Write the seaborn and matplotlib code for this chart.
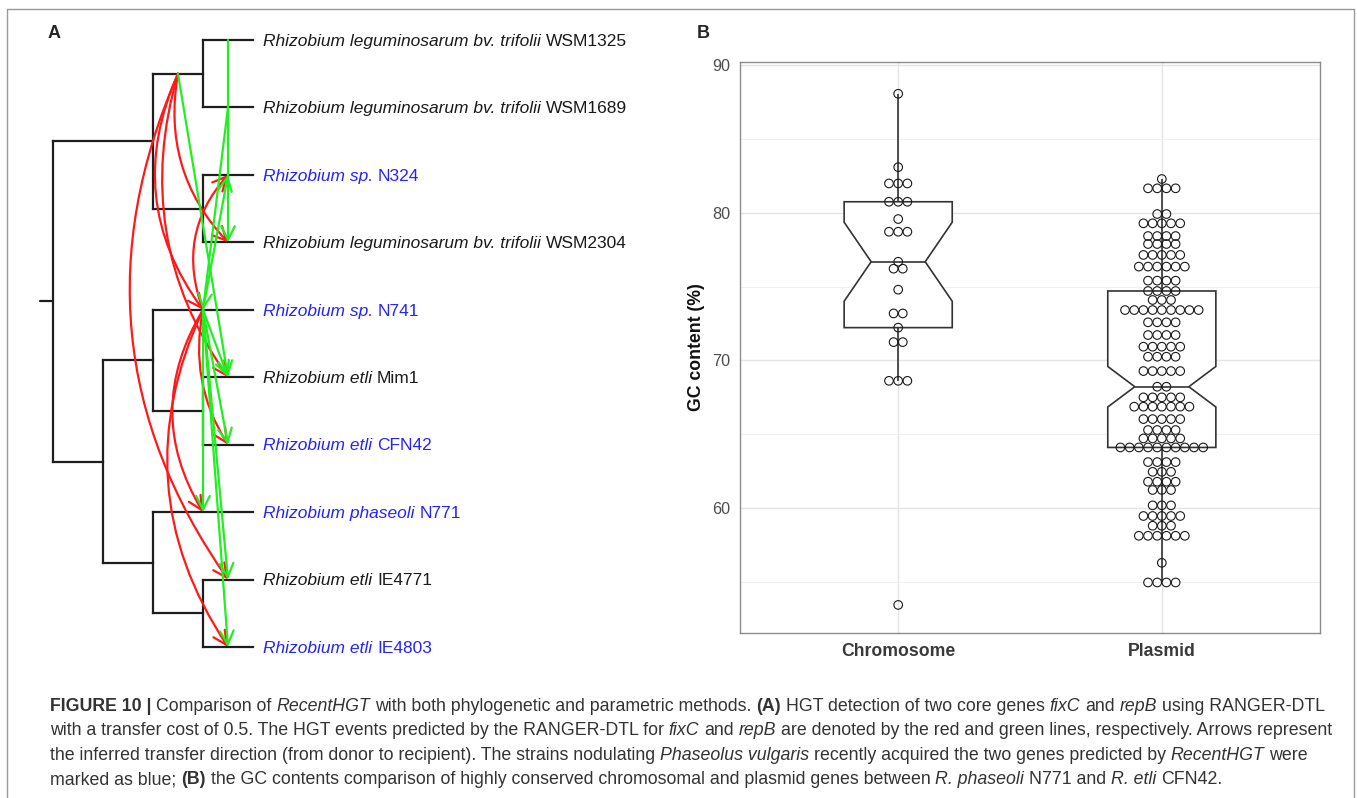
import numpy as np
import pandas as pd
import matplotlib
matplotlib.use("Agg")
import matplotlib.pyplot as plt
import seaborn as sns
from matplotlib.patches import FancyArrowPatch
from matplotlib.lines import Line2D

# ------------------------------------------------------------------ data
# Panel A : species tree (cladogram) and transfer events
tip_names = ["WSM1325", "WSM1689", "N324", "WSM2304", "N741",
             "Mim1", "CFN42", "N771", "IE4771", "IE4803"]
tip_taxon = ["Rhizobium leguminosarum bv. trifolii",
             "Rhizobium leguminosarum bv. trifolii",
             "Rhizobium sp.",
             "Rhizobium leguminosarum bv. trifolii",
             "Rhizobium sp.",
             "Rhizobium etli",
             "Rhizobium etli",
             "Rhizobium phaseoli",
             "Rhizobium etli",
             "Rhizobium etli"]
tip_is_blue = [False, False, True, False, True, False, True, True, False, True]
tree = ("root", [("CT", [("C1", ["WSM1325", "WSM1689"]),
                         ("C2", ["N324", "WSM2304"])]),
                 ("CB", [("C3", ["N741", ("C4", ["Mim1", "CFN42"])]),
                         ("C5", ["N771", ("C6", ["IE4771", "IE4803"])])])])

# fixC transfers (red) and repB transfers (green): donor -> recipient
fixC_donor = ["C1", "C1", "C1", "C1", "N741", "N741", "N741", "N741"]
fixC_recip = ["WSM2304", "N741", "Mim1", "IE4771", "N324", "CFN42", "N771", "IE4803"]
repB_donor = ["WSM1325", "WSM1689", "N741", "C1", "N741", "N741", "N741", "N741", "N741"]
repB_recip = ["WSM2304", "N741", "N324", "Mim1", "Mim1", "CFN42", "N771", "IE4771", "IE4803"]

# Panel B : GC content (%) of genes (dot rows: value, number of genes)
chrom_values = [88.05, 83.08, 81.98, 80.74, 79.57, 78.71, 76.68, 76.21, 74.79,
                73.18, 72.22, 71.24, 68.62, 53.45]
chrom_counts = [1, 1, 3, 3, 1, 3, 1, 2, 1, 2, 1, 2, 3, 1]
plasmid_values = [82.28, 81.65, 79.91, 79.28, 78.42, 77.88, 77.14, 76.35, 75.40,
                  74.70, 74.09, 73.41, 72.58, 71.72, 70.93, 70.25, 69.28, 68.22,
                  67.50, 66.87, 66.03, 65.29, 64.72, 64.11, 63.12, 62.46, 61.79,
                  61.23, 60.19, 59.47, 58.81, 58.13, 56.30, 54.97]
plasmid_counts = [1, 4, 2, 5, 4, 4, 5, 6, 4, 4, 3, 9, 4, 4, 5, 4, 5, 2, 5, 7, 5,
                  4, 5, 10, 4, 3, 4, 3, 3, 5, 3, 6, 1, 4]
categories = ["Chromosome", "Plasmid"]
y_ticks = [60, 70, 80, 90]

caption_lines = [
    [("FIGURE 10 | ", "b"), ("Comparison of ", "r"), ("RecentHGT", "i"),
     (" with both phylogenetic and parametric methods. ", "r"), ("(A)", "b"),
     (" HGT detection of two core genes ", "r"), ("fixC", "i"), (" and ", "r"),
     ("repB", "i"), (" using RANGER-DTL", "r")],
    [("with a transfer cost of 0.5. The HGT events predicted by the RANGER-DTL for ", "r"),
     ("fixC", "i"), (" and ", "r"), ("repB", "i"),
     (" are denoted by the red and green lines, respectively. Arrows represent", "r")],
    [("the inferred transfer direction (from donor to recipient). The strains nodulating ", "r"),
     ("Phaseolus vulgaris", "i"), (" recently acquired the two genes predicted by ", "r"),
     ("RecentHGT", "i"), (" were", "r")],
    [("marked as blue; ", "r"), ("(B)", "b"),
     (" the GC contents comparison of highly conserved chromosomal and plasmid genes between ", "r"),
     ("R. phaseoli", "i"), (" N771 and ", "r"), ("R. etli", "i"), (" CFN42.", "r")],
]

# ------------------------------------------------------------------ figure
W, H, DPI = 1357, 798, 100
sns.set_style("white")
plt.rcParams["font.family"] = ["Liberation Sans", "DejaVu Sans"]
fig = plt.figure(figsize=(W / DPI, H / DPI), dpi=DPI)
fig.patch.set_facecolor("white")
renderer = fig.canvas.get_renderer()


def fx(px):
    return px / W


def fy(py_top):
    return 1 - py_top / H


def space_w(props):
    a = fig.text(0, 0, "a a", **props)
    b = fig.text(0, 0, "aa", **props)
    w = a.get_window_extent(renderer).width - b.get_window_extent(renderer).width
    a.remove(); b.remove()
    return w


def rich(x_disp, y_disp, segs, draw=True):
    """segs: list of (text, props) placed left to right on a common baseline
    (display coordinates, y from bottom). Returns end x."""
    x = x_disp
    for s, props in segs:
        sw = space_w(props)
        lead = len(s) - len(s.lstrip(" "))
        trail = len(s) - len(s.rstrip(" "))
        core = s.strip(" ")
        x += lead * sw
        if core:
            t = fig.text(x / W, y_disp / H, core, ha="left", va="baseline", **props)
            x += t.get_window_extent(renderer).width
            if not draw:
                t.remove()
        x += trail * sw
    return x


# figure frame
frame_c = "#9a9a9a"
fig.add_artist(Line2D([fx(7), fx(7)], [0, fy(9)], color=frame_c, lw=1.0))
fig.add_artist(Line2D([fx(7), fx(1354)], [fy(9), fy(9)], color=frame_c, lw=1.0))
fig.add_artist(Line2D([fx(1354), fx(1354)], [0, fy(9)], color=frame_c, lw=1.0))

# ------------------------------------------------------------------ panel A
nodes = {}


def walk(node, parent):
    if isinstance(node, str):
        nodes[node] = dict(y=tip_names.index(node), h=0, parent=parent, kids=[])
        return node
    name, kids = node
    kn = [walk(k, name) for k in kids]
    ys = [nodes[k]["y"] for k in kn]
    nodes[name] = dict(y=(min(ys) + max(ys)) / 2,
                       h=1 + max(nodes[k]["h"] for k in kn), parent=parent, kids=kn)
    return name


walk(tree, None)
hmax = nodes["root"]["h"]
for n in nodes.values():
    n["x"] = hmax - n["h"]

axA = fig.add_axes([0, fy(665), fx(700), 665 / H])
lev_px, tip_px = 50.0, 67.44
axA.set_xlim(-53 / lev_px, (700 - 53) / lev_px)
axA.set_ylim((665 - 40) / tip_px, -40 / tip_px)
axA.axis("off")

tree_c, tree_lw = "#1e1e1e", 1.6
for name, n in nodes.items():
    if n["kids"]:
        ys = [nodes[k]["y"] for k in n["kids"]]
        axA.plot([n["x"], n["x"]], [min(ys), max(ys)], color=tree_c, lw=tree_lw,
                 solid_capstyle="projecting")
    if n["parent"] is not None:
        px = nodes[n["parent"]]["x"]
        axA.plot([px, n["x"]], [n["y"], n["y"]], color=tree_c, lw=tree_lw,
                 solid_capstyle="projecting")
r = nodes["root"]
axA.plot([r["x"] - 0.26, r["x"]], [r["y"], r["y"]], color=tree_c, lw=tree_lw)


def mid(name):
    n = nodes[name]
    return ((nodes[n["parent"]]["x"] + n["x"]) / 2, n["y"])


red_rad = {"WSM2304": 0.25, "N741": 0.29, "Mim1": 0.24, "IE4771": 0.28,
           "N324": -0.3, "CFN42": 0.2, "N771": 0.3, "IE4803": 0.28}
for d, rc in zip(fixC_donor, fixC_recip):
    a = FancyArrowPatch(mid(d), mid(rc), arrowstyle="->,head_length=0.7,head_width=0.35",
                        connectionstyle=f"arc3,rad={red_rad[rc]}", color="#ff1a1a",
                        lw=1.6, mutation_scale=14, shrinkA=0, shrinkB=0, zorder=3)
    axA.add_patch(a)
for d, rc in zip(repB_donor, repB_recip):
    a = FancyArrowPatch(mid(d), mid(rc), arrowstyle="->,head_length=0.7,head_width=0.35",
                        connectionstyle="arc3,rad=0", color="#22ee22",
                        lw=1.6, mutation_scale=14, shrinkA=0, shrinkB=0, zorder=4)
    axA.add_patch(a)

# tip labels
base_lab = dict(fontsize=12, family=["Liberation Sans", "DejaVu Sans"])
w0 = rich(0, 0, [(tip_taxon[0], {**base_lab, "style": "italic"}),
                 (" " + tip_names[0], base_lab)], draw=False)
lab_size = 12 * 365 / w0
for i, (tx, nm) in enumerate(zip(tip_taxon, tip_names)):
    col = "#2424ff" if tip_is_blue[i] else "#1a1a1a"
    X, Y = axA.transData.transform((nodes[nm]["x"], nodes[nm]["y"]))
    p = dict(fontsize=lab_size, family=["Liberation Sans", "DejaVu Sans"], color=col)
    rich(X + 10, Y - 5.8, [(tx, {**p, "style": "italic"}), (" " + nm, p)])

fig.text(fx(54), fy(33), "A", fontsize=13, weight="bold", ha="center", va="center")
fig.text(fx(703), fy(33), "B", fontsize=13, weight="bold", ha="center", va="center")

# ------------------------------------------------------------------ panel B
chrom = np.repeat(chrom_values, chrom_counts)
plas = np.repeat(plasmid_values, plasmid_counts)
df = pd.DataFrame({"type": [categories[0]] * len(chrom) + [categories[1]] * len(plas),
                   "gc": np.concatenate([chrom, plas])})

axB = fig.add_axes([fx(740), fy(633), fx(1320) - fx(740), (633 - 62) / H])
sns.boxplot(data=df, x="type", y="gc", order=categories, ax=axB, notch=True,
            width=0.41, showfliers=False, showcaps=False, whis=1.5,
            color="white", linecolor="#333333", linewidth=1.2)
axB.set_xlim(-0.6, 1.6)
axB.set_ylim(51.55, 90.2)

# dot plot (centred stacks)
ppu = axB.transData.transform((1, 0))[0] - axB.transData.transform((0, 0))[0]
dot_px = 9.2
step = dot_px / ppu
xs, ys = [], []
for ci, (vals, cnts) in enumerate([(chrom_values, chrom_counts),
                                    (plasmid_values, plasmid_counts)]):
    for v, c in zip(vals, cnts):
        for k in range(c):
            xs.append(ci + (k - (c - 1) / 2) * step)
            ys.append(v)
axB.scatter(xs, ys, s=(8.6 * 72 / DPI) ** 2, facecolors="none",
            edgecolors="#1a1a1a", linewidths=0.8, zorder=5)

axB.set_yticks(y_ticks)
axB.set_yticks([55, 65, 75, 85], minor=True)
axB.grid(True, which="major", color="#e4e4e4", lw=1.0)
axB.grid(True, which="minor", axis="y", color="#eeeeee", lw=0.6)
axB.set_axisbelow(True)
for sp in axB.spines.values():
    sp.set_color("#8c8c8c")
    sp.set_linewidth(1.0)
axB.tick_params(axis="both", which="major", length=4, color="#555555",
                labelcolor="#4d4d4d", labelsize=11.7, width=0.9, pad=3)
axB.tick_params(axis="both", which="minor", length=0)
axB.set_xticks([0, 1])
axB.set_xticklabels(categories, fontsize=12.7, weight="bold", color="#3a3a3a")
axB.set_xlabel("")
axB.set_ylabel("GC content (%)", fontsize=12.7, weight="bold", color="#111111", labelpad=5)

# ------------------------------------------------------------------ caption
cap_col = "#333333"
fam = ["Liberation Sans", "DejaVu Sans"]
sty = {"r": {}, "i": {"style": "italic"}, "b": {"weight": "bold"}}


def segs_for(line, size):
    return [(t, dict(fontsize=size, family=fam, color=cap_col, **sty[k])) for t, k in line]


w1 = rich(0, 0, segs_for(caption_lines[0], 12), draw=False)
cap_size = 12 * 1278 / w1
for li, line in enumerate(caption_lines):
    rich(50, H - (711 + li * 24.4), segs_for(line, cap_size))

fig.savefig("out.png", dpi=DPI, facecolor="white")
